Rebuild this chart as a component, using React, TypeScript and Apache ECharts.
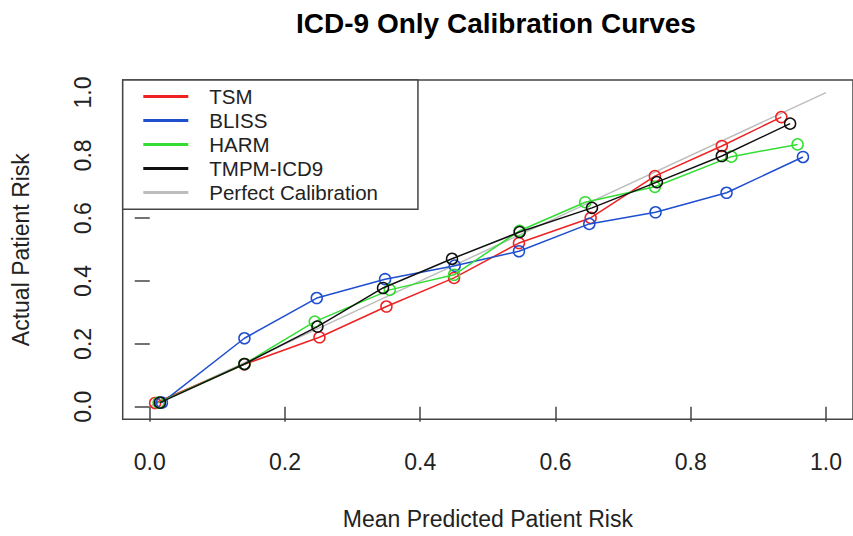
import React, { useEffect, useRef } from "react";
import * as echarts from "echarts";

const titleText = "ICD-9 Only Calibration Curves";
const xAxisTitle = "Mean Predicted Patient Risk";
const yAxisTitle = "Actual Patient Risk";
const tickValues = [0, 0.2, 0.4, 0.6, 0.8, 1.0];

const seriesNames = ["TSM", "BLISS", "HARM", "TMPM-ICD9", "Perfect Calibration"];
const seriesColors = ["#ee2222", "#1f4fcf", "#33dd33", "#111111", "#bdbdbd"];

const tsmX = [0.008, 0.14, 0.251, 0.35, 0.45, 0.546, 0.652, 0.747, 0.846, 0.934];
const tsmY = [0.012, 0.135, 0.221, 0.319, 0.41, 0.521, 0.601, 0.734, 0.83, 0.922];

const blissX = [0.018, 0.14, 0.247, 0.348, 0.451, 0.546, 0.65, 0.748, 0.853, 0.966];
const blissY = [0.013, 0.218, 0.346, 0.406, 0.449, 0.495, 0.582, 0.619, 0.681, 0.795];

const harmX = [0.013, 0.14, 0.244, 0.355, 0.45, 0.547, 0.644, 0.747, 0.86, 0.958];
const harmY = [0.013, 0.136, 0.271, 0.372, 0.42, 0.56, 0.651, 0.7, 0.796, 0.835];

const tmpmX = [0.015, 0.14, 0.248, 0.345, 0.447, 0.547, 0.654, 0.75, 0.846, 0.947];
const tmpmY = [0.013, 0.136, 0.255, 0.378, 0.471, 0.556, 0.633, 0.715, 0.798, 0.901];

const perfectX = [0, 1];
const perfectY = [0, 1];

const FONT = "Liberation Sans, Arial, Helvetica, sans-serif";

function zip(xs: number[], ys: number[]) {
  return xs.map((x, i) => [x, ys[i]]);
}

export default function App() {
  const ref = useRef<HTMLDivElement>(null);
  useEffect(() => {
    if (!ref.current) return;
    const chart = echarts.init(ref.current, null, { renderer: "svg" });
    const curves = [
      zip(tsmX, tsmY),
      zip(blissX, blissY),
      zip(harmX, harmY),
      zip(tmpmX, tmpmY),
    ];
    const series: any[] = [
      {
        name: seriesNames[4],
        type: "line",
        data: zip(perfectX, perfectY),
        showSymbol: false,
        symbol: "none",
        lineStyle: { color: seriesColors[4], width: 1.5 },
        itemStyle: { color: seriesColors[4] },
        z: 1,
      },
      ...curves.map((d, i) => ({
        name: seriesNames[i],
        type: "line",
        data: d,
        symbol: "circle",
        symbolSize: 11,
        lineStyle: { color: seriesColors[i], width: 1.5 },
        itemStyle: {
          color: "transparent",
          borderColor: seriesColors[i],
          borderWidth: 1.5,
        },
        z: 2 + i,
      })),
    ];
    chart.setOption({
      animation: false,
      backgroundColor: "#ffffff",
      textStyle: { fontFamily: FONT },
      title: {
        text: titleText,
        left: 491,
        textAlign: "center",
        top: 4,
        textStyle: { fontFamily: FONT, fontSize: 28, fontWeight: "bold", color: "#000" },
      },
      legend: {
        left: 122.7,
        top: 80,
        orient: "vertical",
        selectedMode: false,
        backgroundColor: "#ffffff",
        borderColor: "#444",
        borderWidth: 1.5,
        borderRadius: 0,
        padding: [4.6, 40, 4.6, 20.6],
        itemGap: 0,
        itemWidth: 45,
        itemHeight: 3,
        textStyle: {
          fontFamily: FONT,
          fontSize: 20.5,
          lineHeight: 24,
          color: "#222",
          padding: [0, 0, 0, 16],
        },
        data: seriesNames.map((n, i) => ({
          name: n,
          icon: "rect",
          itemStyle: { color: seriesColors[i], borderWidth: 0 },
        })),
        z: 10,
      },
      grid: {
        left: 122.7,
        top: 80,
        width: 737.3,
        height: 339.3,
        show: true,
        borderColor: "#444",
        borderWidth: 1.5,
        backgroundColor: "transparent",
      },
      xAxis: {
        type: "value",
        min: -0.04,
        max: 1.04,
        name: xAxisTitle,
        nameLocation: "middle",
        nameGap: 88,
        nameTextStyle: { fontFamily: FONT, fontSize: 23, color: "#222" },
        axisLine: { show: false },
        splitLine: { show: false },
        axisTick: {
          show: true,
          inside: false,
          length: 15,
          customValues: tickValues,
          lineStyle: { color: "#444", width: 1.5 },
        },
        axisLabel: {
          customValues: tickValues,
          margin: 31,
          fontFamily: FONT,
          fontSize: 23,
          color: "#222",
          formatter: (v: number) => v.toFixed(1),
        },
      },
      yAxis: {
        type: "value",
        min: -0.04,
        max: 1.04,
        name: yAxisTitle,
        nameLocation: "middle",
        nameGap: 90,
        nameTextStyle: { fontFamily: FONT, fontSize: 23, color: "#222" },
        axisLine: { show: false },
        splitLine: { show: false },
        axisTick: {
          show: true,
          inside: false,
          length: 15,
          customValues: tickValues,
          lineStyle: { color: "#444", width: 1.5 },
        },
        axisLabel: {
          customValues: tickValues,
          rotate: 90,
          margin: 28,
          fontFamily: FONT,
          fontSize: 23,
          color: "#222",
          formatter: (v: number) => v.toFixed(1),
        },
      },
      series,
    });
    return () => chart.dispose();
  }, []);
  return (
    <div
      ref={ref}
      style={{ position: "fixed", left: 0, top: 0, width: 853, height: 536, background: "#fff" }}
    />
  );
}
